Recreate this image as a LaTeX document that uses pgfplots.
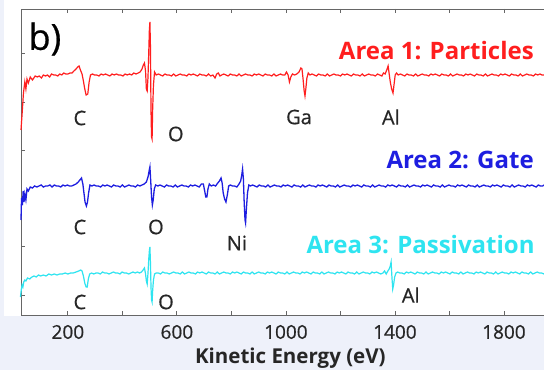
\documentclass[border=0pt]{standalone}
\usepackage{pgfplots}
\pgfplotsset{compat=1.18}
\usepackage{fontspec}
\setmainfont{Open Sans}
\newfontfamily\lblfont[FakeBold=0.6]{Open Sans}
\definecolor{bgc}{HTML}{EEF1FA}
\definecolor{cred}{HTML}{FF1E1E}
\definecolor{cblue}{HTML}{1E1EE0}
\definecolor{ccyan}{HTML}{2EE4F0}
\definecolor{axc}{HTML}{666666}
\definecolor{txt}{HTML}{262626}
\begin{document}
\begin{tikzpicture}
\fill[bgc] (-21pt,-55pt) rectangle (523pt,315pt);
\fill[white] (-17pt,-1pt) rectangle (523pt,315pt);
\begin{axis}[
  at={(0,0)}, anchor=south west,
  scale only axis, width=523pt, height=306pt,
  xmin=28, xmax=1947, ymin=0, ymax=306,
  axis y line*=left,
  axis line style={axc, line width=0.8pt},
  xtick={200,400,...,1800},
  xticklabels={200,,600,,1000,,1400,,1800},
  ytick={20,69,117,165,213,262},
  yticklabels={},
  major tick length=4pt,
  tick style={axc, line width=0.8pt},
  tick align=inside,
  /pgf/number format/assume math mode=true,
  xticklabel style={font=\lblfont\fontsize{19}{22}\selectfont, text=txt, anchor=center, yshift=-17pt},
  xlabel={\textbf{Kinetic Energy (eV)}},
  x label style={font=\fontsize{20.5}{23}\selectfont, text=txt, at={(axis description cs:0.515,0)}, anchor=center, yshift=-43pt},
  clip=false,
]
% Area 1 (red)
\addplot[cred, line width=1.2pt] coordinates {
(28,185) (33,205) (37,222) (42,233) (46,226) (50,236) (55,232) (62,238) (70,235) (80,239) (88,238) (95,239) (103,237) (110,240) (118,239) (125,240) (133,238) (140,241) (148,240) (155,240) (163,239) (170,241) (178,240) (185,242) (192,241) (200,241) (208,242) (215,242) (222,244) (230,246) (236,248) (241,249) (246,245) (252,241) (257,234) (262,226) (267,220) (273,221) (278,233) (283,240) (290,241) (298,240) (306,240) (314,239) (322,241) (330,240) (338,241) (346,240) (354,239) (362,241) (370,240) (378,241) (386,240) (394,240) (402,239) (410,241) (418,240) (426,241) (434,240) (442,242) (450,241) (458,242) (465,243) (472,246) (477,250) (481,252) (485,244) (488,226) (491,224) (494,238) (497,265) (499,285) (501,293) (503,268) (505,205) (507,178) (509,176) (511,205) (514,230) (518,243) (524,240) (532,241) (540,240) (548,239) (556,241) (564,240) (572,240) (580,239) (588,241) (596,239) (604,240) (612,241) (620,240) (628,240) (636,239) (644,241) (652,240) (660,241) (668,240) (676,239) (684,241) (692,240) (700,240) (708,239) (716,241) (724,239) (732,240) (740,237) (746,241) (752,242) (758,239) (764,240) (772,241) (780,240) (788,239) (796,241) (804,240) (812,240) (820,239) (828,241) (836,239) (844,240) (852,241) (860,240) (868,240) (876,239) (884,241) (892,240) (900,241) (908,240) (916,239) (924,241) (932,240) (940,240) (948,239) (956,241) (964,239) (972,240) (980,241) (988,240) (996,240) (1002,243) (1008,240) (1013,233) (1018,238) (1024,241) (1032,240) (1040,241) (1048,243) (1055,247) (1059,246) (1063,236) (1067,224) (1070,219) (1073,226) (1077,237) (1082,242) (1088,240) (1096,241) (1104,240) (1112,239) (1120,241) (1128,240) (1136,240) (1144,239) (1152,241) (1160,239) (1168,240) (1176,241) (1184,240) (1192,240) (1200,239) (1208,241) (1216,240) (1224,241) (1232,240) (1240,239) (1248,241) (1256,240) (1264,240) (1272,239) (1280,241) (1288,239) (1296,240) (1304,241) (1312,240) (1320,240) (1328,239) (1336,241) (1344,240) (1352,239) (1358,242) (1364,241) (1370,245) (1375,249) (1379,241) (1383,233) (1388,226) (1393,222) (1397,231) (1401,240) (1406,242) (1412,240) (1420,241) (1428,240) (1436,239) (1444,241) (1452,240) (1460,240) (1468,239) (1476,241) (1484,239) (1492,240) (1500,241) (1508,240) (1516,240) (1524,239) (1532,241) (1540,240) (1548,241) (1556,240) (1564,239) (1572,241) (1580,240) (1588,240) (1596,239) (1604,241) (1612,239) (1620,240) (1628,241) (1636,240) (1644,240) (1652,239) (1660,241) (1668,240) (1676,241) (1684,240) (1692,239) (1700,241) (1708,240) (1716,240) (1724,239) (1732,241) (1740,239) (1748,240) (1756,241) (1764,240) (1772,240) (1780,239) (1788,241) (1796,240) (1804,241) (1812,240) (1820,239) (1828,241) (1836,240) (1844,240) (1852,239) (1860,241) (1868,239) (1876,240) (1884,241) (1892,240) (1900,240) (1908,239) (1916,241) (1924,240) (1932,241) (1940,240) (1947,240)
};
% Area 2 (blue)
\addplot[cblue, line width=1.3pt] coordinates {
(28,95) (30,117) (33,110) (36,124) (39,113) (42,121) (46,115) (50,126) (55,124) (62,128) (70,127) (78,129) (86,128) (94,129) (102,130) (110,128) (118,129) (126,129) (134,130) (142,128) (150,130) (158,129) (166,129) (174,128) (182,130) (190,129) (198,130) (206,129) (214,129) (222,130) (230,131) (238,133) (244,135) (250,137) (255,131) (259,122) (263,113) (268,109) (272,113) (276,122) (281,130) (288,129) (296,130) (304,129) (312,129) (320,128) (328,130) (336,129) (344,130) (352,129) (360,128) (368,130) (376,129) (384,129) (392,128) (400,130) (408,128) (416,129) (424,130) (432,129) (440,129) (448,128) (456,130) (464,129) (472,130) (480,131) (488,133) (494,138) (498,144) (501,148) (504,134) (507,118) (510,110) (513,115) (517,126) (522,130) (530,129) (538,130) (546,129) (554,128) (562,130) (570,129) (578,129) (586,128) (594,130) (602,128) (610,129) (618,130) (626,129) (634,129) (642,128) (650,130) (658,129) (666,130) (674,129) (682,128) (690,131) (697,131) (702,124) (706,118) (710,118) (714,126) (719,131) (726,129) (734,130) (742,129) (750,132) (756,134) (762,137) (766,132) (770,122) (775,116) (780,113) (785,120) (790,129) (796,130) (804,129) (812,129) (820,128) (828,131) (834,134) (838,140) (841,146) (844,136) (847,112) (850,95) (852,92) (855,106) (859,122) (864,130) (870,129) (878,130) (886,129) (894,128) (902,130) (910,129) (918,129) (926,128) (934,130) (942,128) (950,129) (958,130) (966,129) (974,129) (982,128) (990,130) (998,129) (1006,130) (1014,129) (1022,128) (1030,130) (1038,129) (1046,129) (1054,128) (1062,130) (1070,128) (1078,129) (1086,130) (1094,129) (1102,129) (1110,128) (1118,130) (1126,129) (1134,130) (1142,129) (1150,128) (1158,130) (1166,129) (1174,129) (1182,128) (1190,130) (1198,128) (1206,129) (1214,130) (1222,129) (1230,129) (1238,128) (1246,130) (1254,129) (1262,130) (1270,129) (1278,128) (1286,130) (1294,129) (1302,129) (1310,128) (1318,130) (1326,128) (1334,129) (1342,130) (1350,129) (1358,129) (1366,128) (1374,130) (1382,129) (1390,130) (1398,129) (1406,128) (1414,130) (1422,129) (1430,129) (1438,128) (1446,130) (1454,128) (1462,129) (1470,130) (1478,129) (1486,129) (1494,128) (1502,130) (1510,129) (1518,130) (1526,129) (1534,128) (1542,130) (1550,129) (1558,129) (1566,128) (1574,130) (1582,128) (1590,129) (1598,130) (1606,129) (1614,129) (1622,128) (1630,130) (1638,129) (1646,130) (1654,129) (1662,128) (1670,130) (1678,129) (1686,129) (1694,128) (1702,130) (1710,128) (1718,129) (1726,130) (1734,129) (1742,129) (1750,128) (1758,130) (1766,129) (1774,130) (1782,129) (1790,128) (1798,130) (1806,129) (1814,129) (1822,128) (1830,130) (1838,128) (1846,129) (1854,130) (1862,129) (1870,129) (1878,128) (1886,130) (1894,129) (1902,130) (1910,129) (1918,128) (1926,130) (1934,129) (1942,129) (1947,130)
};
% Area 3 (cyan)
\addplot[ccyan, line width=1.2pt] coordinates {
(26,18) (29,25) (32,30) (35,28) (38,33) (42,35) (46,34) (52,37) (60,36) (68,38) (76,39) (84,38) (92,40) (100,39) (110,40) (120,39) (130,41) (140,40) (150,41) (160,40) (170,41) (180,41) (190,42) (200,41) (210,42) (220,42) (230,43) (240,44) (247,45) (252,44) (257,39) (262,32) (267,28) (271,28) (275,36) (280,41) (287,42) (295,41) (303,42) (311,42) (319,41) (327,43) (335,42) (343,42) (351,41) (359,42) (367,43) (375,42) (383,42) (391,41) (399,43) (407,42) (415,42) (423,41) (431,42) (439,43) (447,42) (455,43) (463,42) (470,43) (476,45) (481,47) (485,41) (488,34) (491,31) (494,42) (497,57) (499,64) (501,68) (503,52) (505,28) (507,15) (509,13) (511,24) (514,35) (518,41) (524,42) (532,42) (540,41) (548,43) (556,42) (564,42) (572,41) (580,42) (588,43) (596,42) (604,42) (612,41) (620,43) (628,41) (636,42) (644,43) (652,42) (660,42) (668,41) (676,43) (684,42) (692,43) (700,42) (708,41) (716,43) (724,42) (732,42) (740,41) (748,43) (756,41) (764,42) (772,43) (780,42) (788,42) (796,41) (804,43) (812,42) (820,43) (828,42) (836,41) (844,43) (852,42) (860,42) (868,41) (876,43) (884,41) (892,42) (900,43) (908,42) (916,42) (924,41) (932,43) (940,42) (948,43) (956,42) (964,41) (972,43) (980,42) (988,42) (996,41) (1004,43) (1012,41) (1020,42) (1028,43) (1036,42) (1044,42) (1052,41) (1060,43) (1068,42) (1076,43) (1084,42) (1092,41) (1100,43) (1108,42) (1116,42) (1124,41) (1132,43) (1140,41) (1148,42) (1156,43) (1164,42) (1172,42) (1180,41) (1188,43) (1196,42) (1204,43) (1212,42) (1220,41) (1228,43) (1236,42) (1244,42) (1252,41) (1260,43) (1268,41) (1276,42) (1284,43) (1292,42) (1300,42) (1308,41) (1316,43) (1324,42) (1332,43) (1340,42) (1348,41) (1356,42) (1362,44) (1368,41) (1374,44) (1379,46) (1383,49) (1386,53) (1389,38) (1392,26) (1395,30) (1399,38) (1404,42) (1410,43) (1418,42) (1426,42) (1434,41) (1442,43) (1450,42) (1458,43) (1466,42) (1474,41) (1482,43) (1490,42) (1498,42) (1506,41) (1514,43) (1522,41) (1530,42) (1538,43) (1546,42) (1554,42) (1562,41) (1570,43) (1578,42) (1586,43) (1594,42) (1602,41) (1610,43) (1618,42) (1626,42) (1634,41) (1642,43) (1650,41) (1658,42) (1666,43) (1674,42) (1682,42) (1690,41) (1698,43) (1706,42) (1714,43) (1722,42) (1730,41) (1738,43) (1746,42) (1754,42) (1762,41) (1770,43) (1778,41) (1786,42) (1794,43) (1802,42) (1810,42) (1818,41) (1826,43) (1834,42) (1842,43) (1850,42) (1858,41) (1866,43) (1874,42) (1882,42) (1890,41) (1898,43) (1906,41) (1914,42) (1922,43) (1930,42) (1938,42) (1947,41)
};
% texts
\node[anchor=west, inner sep=0pt, text=black, font=\lblfont\fontsize{36}{40}\selectfont] at (axis cs:55,276) {b)};
\node[anchor=east, inner sep=0pt, text=cred, font=\fontsize{24}{27}\selectfont\bfseries] at (axis cs:1910,264) {Area 1: Particles};
\node[anchor=east, inner sep=0pt, text=cblue, font=\fontsize{24}{27}\selectfont\bfseries] at (axis cs:1910,155) {Area 2: Gate};
\node[anchor=east, inner sep=0pt, text=ccyan, font=\fontsize{24}{27}\selectfont\bfseries] at (axis cs:1913,70) {Area 3: Passivation};
\begin{scope}[every node/.style={inner sep=0pt, anchor=center, text=txt, font=\lblfont\fontsize{20}{23}\selectfont}]
\node at (axis cs:244,197) {C};
\node at (axis cs:596,181) {O};
\node at (axis cs:1048,198) {Ga};
\node at (axis cs:1385,198) {Al};
\node at (axis cs:244,88) {C};
\node at (axis cs:523,88) {O};
\node at (axis cs:820,72) {Ni};
\node at (axis cs:244,13) {C};
\node at (axis cs:560,13) {O};
\node at (axis cs:1458,20) {Al};
\end{scope}
\end{axis}
\pgfresetboundingbox
\path[use as bounding box] (-21pt,-55pt) rectangle (523pt,315pt);
\end{tikzpicture}
\end{document}
